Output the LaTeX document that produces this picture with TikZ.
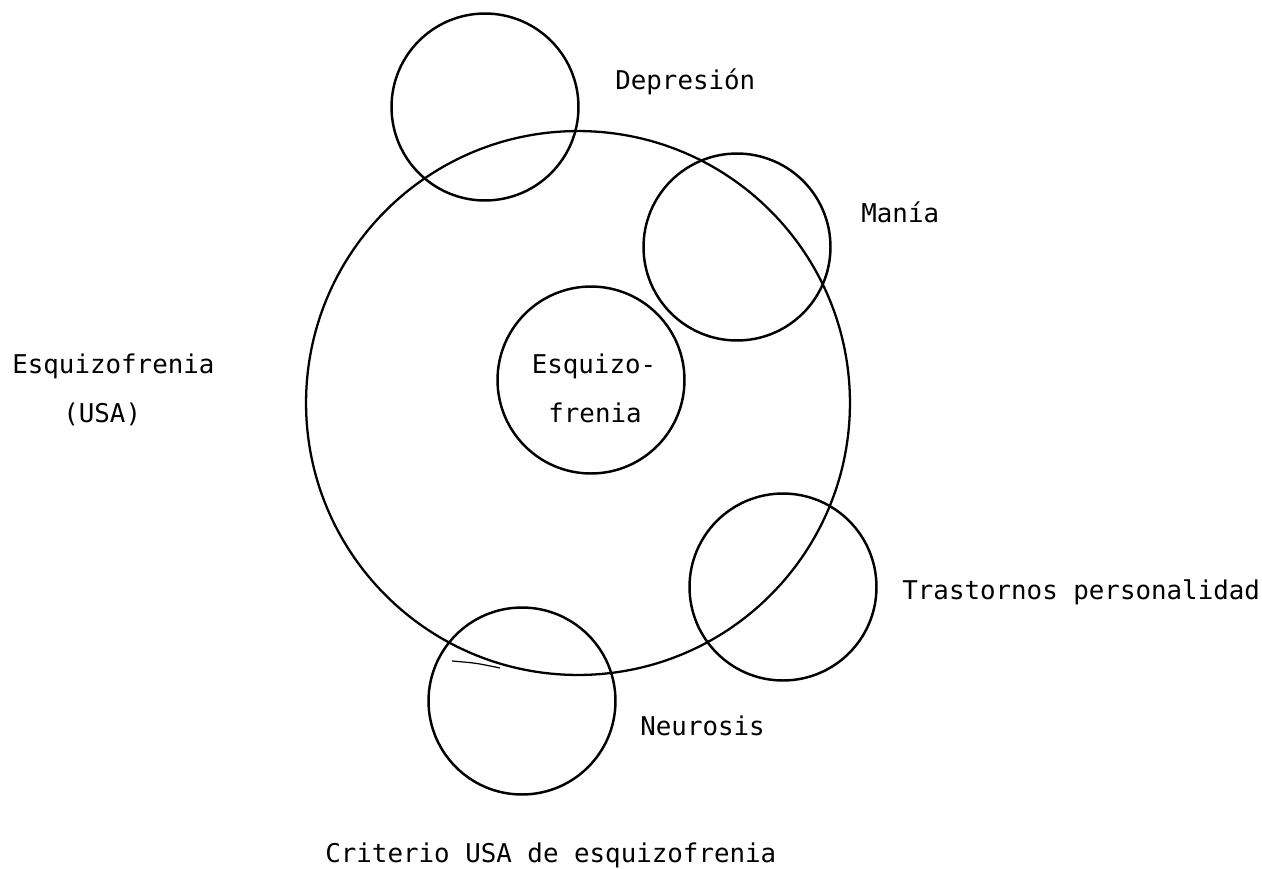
\documentclass[tikz,border=0pt]{standalone}
\usepackage{fontspec}
\setmonofont{DejaVu Sans Mono}
\usetikzlibrary{positioning}

\begin{document}
\begin{tikzpicture}[
  x=0.02cm, y=-0.02cm,
  every node/.style={font=\ttfamily\fontsize{14.7}{28}\selectfont, inner sep=0pt},
  ring/.style={draw, circle, line width=1.4pt, minimum size=3.74cm},
  bigring/.style={draw, circle, line width=1.3pt, minimum size=10.88cm},
  lbl/.style={anchor=base west}
]
\useasboundingbox (0,0) rectangle (1262,869);

% criterio USA (gran circulo) y los otros diagnosticos
\node[bigring] (usa) at (578,403) {};
\node[ring] (dep) at (485,107) {};
\node[ring] (mania) at (737,247) {};
\node[ring] (esq) at (591,380) {};
\node[ring] (trast) at (783,587) {};
\node[ring] (neur) at (522,701) {};

% trazo suelto bajo el circulo grande
\draw[line width=0.7pt] (452,661) .. controls (476,663) .. (500,668);

% textos
\node[lbl] (tdep) at (615,89) {Depresión};
\node[lbl] (tmania) at (861,222) {Manía};
\node[lbl] (tusa) at (12,373) {Esquizofrenia};
\node[lbl] (tusb) at (63,422) {(USA)};
\node[anchor=base] (tesqa) at (594,373) {Esquizo-};
\node[anchor=base] (tesqb) at (595,422) {frenia};
\node[lbl] (ttrast) at (902,599) {Trastornos personalidad};
\node[lbl] (tneur) at (640,735) {Neurosis};
\node[lbl] (tcrit) at (325,862) {Criterio USA de esquizofrenia};

\end{tikzpicture}
\end{document}
